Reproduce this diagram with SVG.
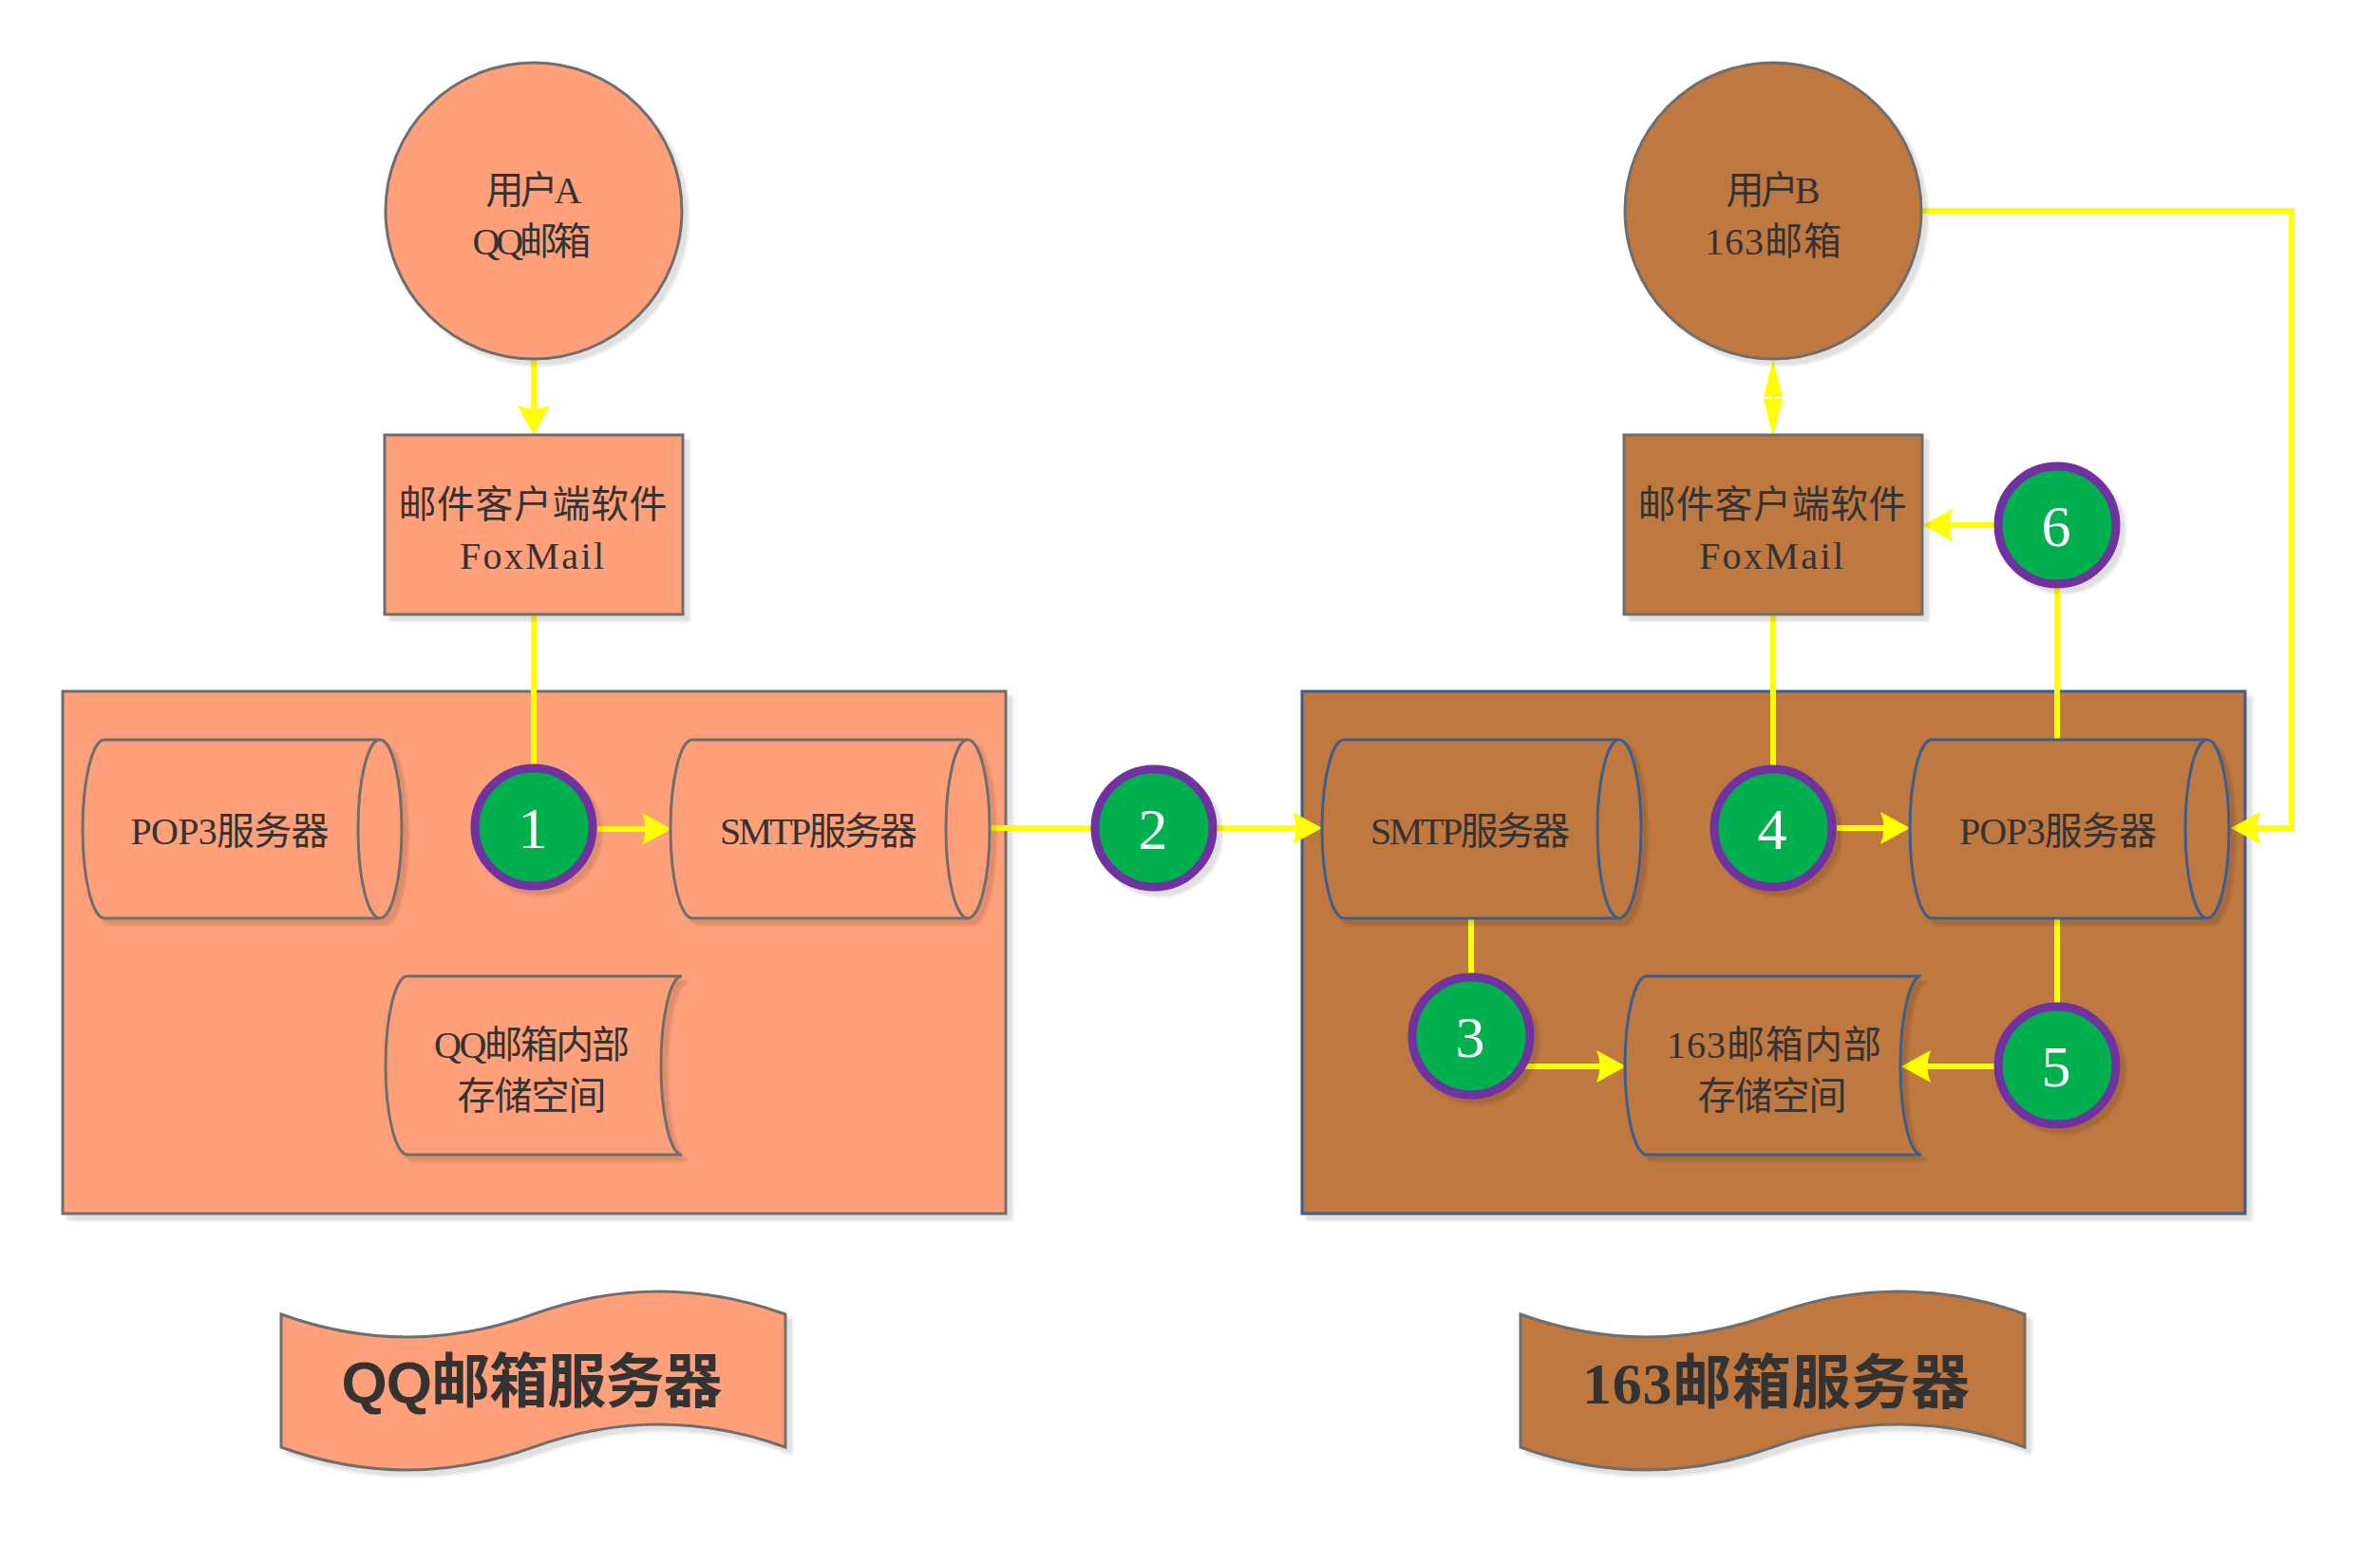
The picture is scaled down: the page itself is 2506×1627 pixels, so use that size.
<svg xmlns="http://www.w3.org/2000/svg" width="2506" height="1627" viewBox="0 0 2506 1627">
<style>
.txt{font-family:"Liberation Serif","Noto Sans CJK SC",serif;font-size:40px;fill:#333333;text-anchor:middle}
.num{font-family:"Liberation Serif","Noto Sans CJK SC",serif;font-size:62px;fill:#ffffff;text-anchor:middle}
.ban{font-family:"Liberation Serif","Noto Sans CJK SC",serif;font-size:62px;font-weight:bold;fill:#333333;text-anchor:middle}
.sa{fill:#FFA07A;stroke:#6E6E6E;stroke-width:3}
.sb{fill:#BF783F;stroke:#6E6E6E;stroke-width:3}
.bb{fill:#BF783F;stroke:#3B5E8C;stroke-width:3}
.inner{fill:none}
.step{fill:#00B050;stroke:#7030A0;stroke-width:9}
.con{fill:none;stroke:#FFFF00;stroke-width:6}
</style>
<defs>
<filter id="sh" x="-10%" y="-10%" width="130%" height="130%">
<feDropShadow dx="6" dy="6" stdDeviation="1.5" flood-color="#000000" flood-opacity="0.12"/>
</filter>
<marker id="ah" markerUnits="userSpaceOnUse" viewBox="-6 -18 34 36" markerWidth="34" markerHeight="36" refX="0" refY="0" orient="auto">
<path d="M27,0 L-4,-17 Q3,0 -4,17 Z" fill="#FFFF00"/>
</marker>
<marker id="dh" markerUnits="userSpaceOnUse" viewBox="-2 -11 44 22" markerWidth="44" markerHeight="22" refX="0" refY="0" orient="auto-start-reverse">
<path d="M40,0 L0,-10 L0,10 Z" fill="#FFFF00"/>
</marker>
</defs>
<rect width="2506" height="1627" fill="#ffffff"/>

<g id="container-qq"><rect class="sa" x="66" y="728" width="993" height="550" filter="url(#sh)"/></g>
<g id="container-163"><rect class="bb" x="1371" y="728" width="993" height="550" filter="url(#sh)"/></g>

<g id="connectors">
<path class="con" d="M562,379 L562,431" marker-end="url(#ah)"/>
<path class="con" d="M562,647 L562,806"/>
<path class="con" d="M629,873 L680,873" marker-end="url(#ah)"/>
<path class="con" d="M1042,872 L1149,872"/>
<path class="con" d="M1281,872 L1365,872" marker-end="url(#ah)"/>
<path class="con" d="M1549,967 L1549,1026"/>
<path class="con" d="M1605,1123 L1685,1123" marker-end="url(#ah)"/>
<path class="con" d="M1867,647 L1867,806"/>
<path class="con" d="M1934,872 L1984,872" marker-end="url(#ah)"/>
<path class="con" d="M2166,967 L2166,1058"/>
<path class="con" d="M2100,1123 L2029,1123" marker-end="url(#ah)"/>
<path class="con" d="M2166,779 L2166,618"/>
<path class="con" d="M2100,553 L2052,553" marker-end="url(#ah)"/>
<path class="con" style="stroke-width:2" d="M1867,418 L1867,420" marker-start="url(#dh)" marker-end="url(#dh)"/>
<path class="con" d="M2024,222 L2413,222 L2413,872 L2376,872" marker-end="url(#ah)"/>
</g>

<g id="user-a">
<circle class="sa" cx="562" cy="222" r="156" filter="url(#sh)"/>
<text class="txt" x="562" y="214" textLength="101">用户A</text>
<text class="txt" x="560" y="268" textLength="125">QQ邮箱</text>
</g>
<g id="client-a">
<rect class="sa" x="405" y="458" width="314" height="189" filter="url(#sh)"/>
<text class="txt" x="561" y="545" textLength="283">邮件客户端软件</text>
<text class="txt" x="560" y="599" textLength="152">FoxMail</text>
</g>
<g id="pop3-a">
<path class="sa" d="M110,779 L400,779 A23,94 0 0 1 400,967 L110,967 A23,94 0 0 1 110,779 Z" filter="url(#sh)"/>
<path class="sa inner" d="M400,779 A23,94 0 0 0 400,967"/>
<text class="txt" x="242" y="889" textLength="209">POP3服务器</text>
</g>
<g id="smtp-a">
<path class="sa" d="M729,779 L1019,779 A23,94 0 0 1 1019,967 L729,967 A23,94 0 0 1 729,779 Z" filter="url(#sh)"/>
<path class="sa inner" d="M1019,779 A23,94 0 0 0 1019,967"/>
<text class="txt" x="862" y="889" textLength="208">SMTP服务器</text>
</g>
<g id="storage-a">
<path class="sa" d="M429,1028 L718,1028 A22,94 0 0 0 718,1216 L429,1216 A23,94 0 0 1 429,1028 Z" filter="url(#sh)"/>
<text class="txt" x="560" y="1114" textLength="206">QQ邮箱内部</text>
<text class="txt" x="560" y="1168" textLength="157">存储空间</text>
</g>

<g id="user-b">
<circle class="sb" cx="1867" cy="222" r="156" filter="url(#sh)"/>
<text class="txt" x="1867" y="214" textLength="99">用户B</text>
<text class="txt" x="1867" y="268" textLength="144">163邮箱</text>
</g>
<g id="client-b">
<rect class="sb" x="1710" y="458" width="314" height="189" filter="url(#sh)"/>
<text class="txt" x="1866" y="545" textLength="283">邮件客户端软件</text>
<text class="txt" x="1865" y="599" textLength="152">FoxMail</text>
</g>
<g id="smtp-b">
<path class="bb" d="M1415,779 L1705,779 A23,94 0 0 1 1705,967 L1415,967 A23,94 0 0 1 1415,779 Z" filter="url(#sh)"/>
<path class="bb inner" d="M1705,779 A23,94 0 0 0 1705,967"/>
<text class="txt" x="1548" y="889" textLength="210">SMTP服务器</text>
</g>
<g id="pop3-b">
<path class="bb" d="M2034,779 L2324,779 A23,94 0 0 1 2324,967 L2034,967 A23,94 0 0 1 2034,779 Z" filter="url(#sh)"/>
<path class="bb inner" d="M2324,779 A23,94 0 0 0 2324,967"/>
<text class="txt" x="2167" y="889" textLength="208">POP3服务器</text>
</g>
<g id="storage-b">
<path class="bb" d="M1734,1028 L2023,1028 A22,94 0 0 0 2023,1216 L1734,1216 A23,94 0 0 1 1734,1028 Z" filter="url(#sh)"/>
<text class="txt" x="1868" y="1114" textLength="226">163邮箱内部</text>
<text class="txt" x="1866" y="1168" textLength="157">存储空间</text>
</g>

<g id="step-1"><circle class="step" cx="562" cy="871" r="62" filter="url(#sh)"/><text class="num" x="561" y="893">1</text></g>
<g id="step-2"><circle class="step" cx="1215" cy="872" r="62" filter="url(#sh)"/><text class="num" x="1214" y="894">2</text></g>
<g id="step-3"><circle class="step" cx="1549" cy="1091" r="62" filter="url(#sh)"/><text class="num" x="1548" y="1113">3</text></g>
<g id="step-4"><circle class="step" cx="1867" cy="872" r="62" filter="url(#sh)"/><text class="num" x="1866" y="894">4</text></g>
<g id="step-5"><circle class="step" cx="2166" cy="1122" r="62" filter="url(#sh)"/><text class="num" x="2165" y="1144">5</text></g>
<g id="step-6"><circle class="step" cx="2166" cy="553" r="62" filter="url(#sh)"/><text class="num" x="2165" y="575">6</text></g>

<g id="banner-qq">
<path class="sa" d="M296,1384 C384.5,1416 473,1416 561.5,1384 C650,1352 738.5,1352 827,1384 L827,1524 C738.5,1492 650,1492 561.5,1524 C473,1556 384.5,1556 296,1524 Z" filter="url(#sh)"/>
<text class="ban" x="560" y="1477" textLength="401"><tspan style="font-family:'Liberation Sans',sans-serif">QQ</tspan>邮箱服务器</text>
</g>
<g id="banner-163">
<path class="sb" d="M1601,1384 C1689.5,1416 1778,1416 1866.5,1384 C1955,1352 2043.5,1352 2132,1384 L2132,1524 C2043.5,1492 1955,1492 1866.5,1524 C1778,1556 1689.5,1556 1601,1524 Z" filter="url(#sh)"/>
<text class="ban" x="1870" y="1478" textLength="408">163邮箱服务器</text>
</g>
</svg>
